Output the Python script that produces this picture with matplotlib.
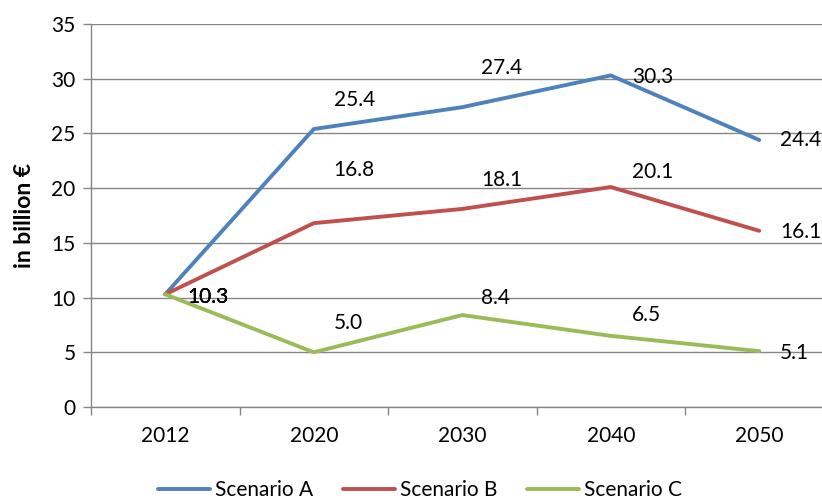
import matplotlib
matplotlib.use("Agg")
import matplotlib.pyplot as plt

years = ["2012", "2020", "2030", "2040", "2050"]
scenario_a = [10.3, 25.4, 27.4, 30.3, 24.4]
scenario_b = [10.3, 16.8, 18.1, 20.1, 16.1]
scenario_c = [10.3, 5.0, 8.4, 6.5, 5.1]
series_names = ["Scenario A", "Scenario B", "Scenario C"]
y_ticks = [0, 5, 10, 15, 20, 25, 30, 35]

colors = ["#4F81BD", "#C0504D", "#9BBB59"]
# label offsets in pixels (dx to left edge, dy of centre)
offsets = [
    [(22, -3), (20, 29), (19, 39), (21, -2), (21, 0)],
    [(22, -3), (20, 53), (19, 29), (21, 15), (21, -1)],
    [(22, -3), (20, 29), (19, 17), (21, 21), (21, -2)],
]

plt.rcParams['font.family'] = ['Lato', 'DejaVu Sans']
FS = 15

fig = plt.figure(figsize=(8.22, 4.99), dpi=100)
ax = fig.add_axes([91/822, 92/499, 742.5/822, 383/499])

x = list(range(len(years)))
handles = []
for vals, name, col, offs in zip([scenario_a, scenario_b, scenario_c], series_names, colors, offsets):
    h, = ax.plot(x, vals, color=col, lw=2.8, solid_capstyle='round', solid_joinstyle='round', label=name, zorder=3)
    handles.append(h)
    for xi, v, (dx, dy) in zip(x, vals, offs):
        ax.annotate(f"{v:.1f}", (xi, v), xytext=(dx, dy), textcoords='offset pixels',
                    ha='left', va='center', fontsize=FS, color='black', zorder=4)

ax.set_xlim(-0.5, len(years) - 0.5)
ax.set_ylim(0, 35)
ax.set_yticks(y_ticks)
ax.set_yticklabels([str(t) for t in y_ticks], fontsize=FS)
ax.set_xticks(x)
ax.set_xticklabels(years, fontsize=FS)
ax.tick_params(axis='x', length=0, pad=14)
ax.set_xticks([i - 0.5 for i in range(len(years) + 1)], minor=True)
ax.tick_params(axis='x', which='minor', length=6, color='#868686', width=1)
ax.tick_params(axis='y', length=6, color='#868686', width=1, pad=5)
ax.grid(axis='y', color='#868686', lw=1)
ax.set_axisbelow(True)
for s in ['top', 'right']:
    ax.spines[s].set_visible(False)
for s in ['left', 'bottom']:
    ax.spines[s].set_color('#868686')
    ax.spines[s].set_linewidth(1)
ax.set_ylabel("in billion €", fontsize=16.5, fontweight='bold', labelpad=12)

fig.legend(handles=handles, labels=series_names, loc='center', bbox_to_anchor=(420/822, 9/499),
           ncol=3, frameon=False, fontsize=FS, handlelength=2.5, handletextpad=0.25,
           columnspacing=1.4, borderaxespad=0)

fig.savefig("out.png", dpi=100)
